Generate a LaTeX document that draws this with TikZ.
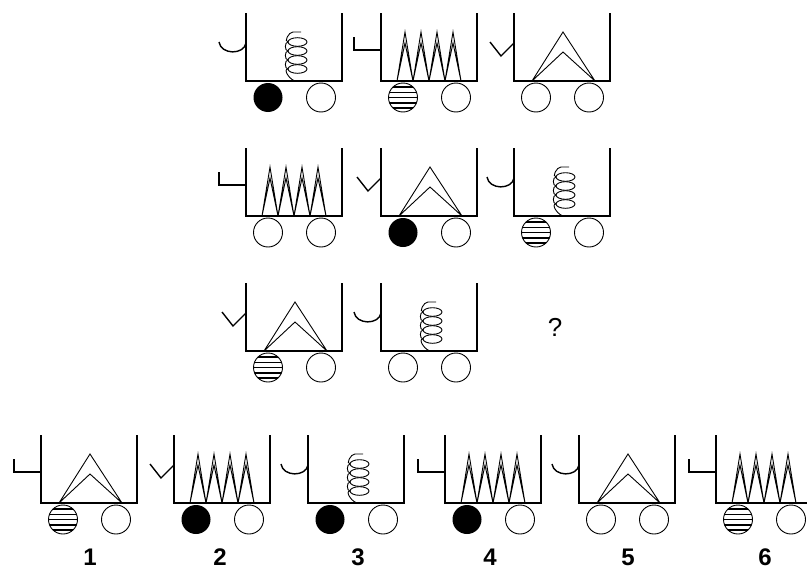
\documentclass[tikz,border=0pt]{standalone}
\usepackage{fontspec}
\setmainfont{Liberation Sans}
\usetikzlibrary{
  calc,         % Calculations $...$
}
\def\mywallh{68}
\def\mywidth{96}
\def\mywheelr{14.5}
\def\mywheely{16.5}
% one cart: left x, floor y, handle, load, left wheel
\newcommand{\cart}[5]{
  \begin{scope}[shift={(#1,#2)}]
    \draw[wall] (0,-\mywallh) -- (0,0) -- (\mywidth,0) -- (\mywidth,-\mywallh);
    \pic {#3};
    \pic {#4};
    \pic at (22,\mywheely) {#5 wheel};
    \pic at (75,\mywheely) {open wheel};
  \end{scope}
}
\tikzset{
  x=1pt,
  y=-1pt,
  wall/.style={
    line width=1.6pt
  },
  handle line/.style={
    line width=1.4pt
  },
  thin line/.style={
    line width=0.9pt
  },
  stripe/.style={
    line width=1.5pt
  },
  lbl/.style={
    font=\fontsize{24}{24}\selectfont\bfseries,
    inner sep=0pt
  },
  % handles
  pics/cup/.style={code={
    \draw[handle line] (-27,-39) .. controls (-25,-26) and (-2,-26) .. (0,-38);
  }},
  pics/hook/.style={code={
    \draw[handle line] (-27,-44) -- (-27,-31) -- (0,-31);
  }},
  pics/tick/.style={code={
    \draw[handle line] (-24,-39) -- (-13,-25) -- (0,-38);
  }},
  % loads
  pics/roof/.style={code={
    \draw[thin line] (18,0) -- (49,-49) -- (81,0)
                     (18,0) -- (49,-29) -- (81,0);
  }},
  pics/teeth/.style={code={
    \foreach \t in {24,40,56,72}
      \draw[thin line] (\t-8,0) -- (\t,-49) -- (\t+8,0)
                       (\t-8,0) -- (\t,-38) -- (\t+8,0);
  }},
  pics/spring/.style={code={
    \foreach \e in {-39,-30,-21,-12}
      \draw[thin line] (51.5,\e) ellipse [x radius=9.5, y radius=4.3];
    \draw[thin line] (55,-49) -- (47,-49) to[out=180,in=180] (42,-39)
                     to[out=180,in=180] (42,-30) to[out=180,in=180] (42,-21)
                     to[out=180,in=180] (42,-12) to[out=180,in=180] (50,0);
  }},
  % wheels
  pics/open wheel/.style={code={
    \draw[thin line] (0,0) circle [radius=\mywheelr];
  }},
  pics/black wheel/.style={code={
    \fill (0,0) circle [radius=\mywheelr];
  }},
  pics/striped wheel/.style={code={
    \draw[thin line] (0,0) circle [radius=\mywheelr];
    \begin{scope}
      \clip (0,0) circle [radius=\mywheelr];
      \foreach \s in {-10.5,-5.25,0,5.25,10.5}
        \draw[stripe] (-15,\s) -- (15,\s);
    \end{scope}
  }},
}
\begin{document}
\begin{tikzpicture}
\useasboundingbox[fill=white] (0,0) rectangle (807,573);
% row 1
\cart{246}{81}{cup}{spring}{black}
\cart{381}{81}{hook}{teeth}{striped}
\cart{514}{81}{tick}{roof}{open}
% row 2
\cart{246}{216}{hook}{teeth}{open}
\cart{381}{216}{tick}{roof}{black}
\cart{514}{216}{cup}{spring}{striped}
% row 3
\cart{246}{351}{tick}{roof}{striped}
\cart{381}{351}{cup}{spring}{open}
\node[font=\fontsize{26}{26}\selectfont] (qm) at (555,327) {?};
% answers
\cart{41}{503}{hook}{roof}{striped}
\cart{174}{503}{tick}{teeth}{black}
\cart{308}{503}{cup}{spring}{black}
\cart{445}{503}{hook}{teeth}{black}
\cart{579}{503}{cup}{roof}{open}
\cart{716}{503}{hook}{teeth}{striped}
\node[lbl] (lbl1) at (90,557)  {1};
\node[lbl] (lbl2) at (220,557) {2};
\node[lbl] (lbl3) at (358,557) {3};
\node[lbl] (lbl4) at (490,557) {4};
\node[lbl] (lbl5) at (628,557) {5};
\node[lbl] (lbl6) at (765,557) {6};
\end{tikzpicture}
\end{document}
